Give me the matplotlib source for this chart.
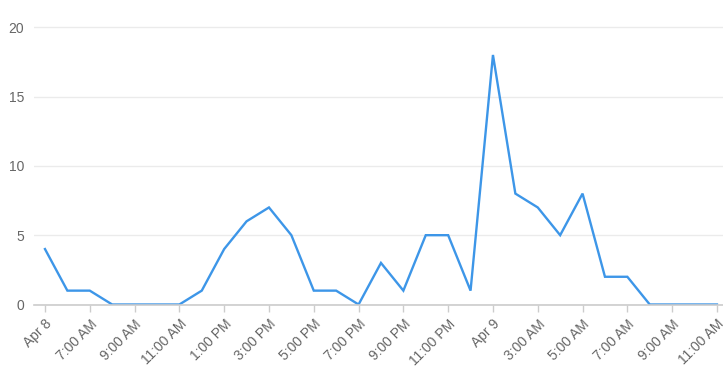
import matplotlib
matplotlib.use("Agg")
import matplotlib.pyplot as plt

hours = list(range(31))
values = [4, 1, 1, 0, 0, 0, 0, 1, 4, 6, 7, 5, 1, 1, 0, 3, 1, 5, 5, 1,
          18, 8, 7, 5, 8, 2, 2, 0, 0, 0, 0]
tick_labels = ["Apr 8", "7:00 AM", "9:00 AM", "11:00 AM", "1:00 PM", "3:00 PM",
               "5:00 PM", "7:00 PM", "9:00 PM", "11:00 PM", "Apr 9", "3:00 AM",
               "5:00 AM", "7:00 AM", "9:00 AM", "11:00 AM"]
y_ticks = [0, 5, 10, 15, 20]

plt.rcParams['font.family'] = ['Liberation Sans', 'DejaVu Sans']
fig = plt.figure(figsize=(7.23, 3.81), dpi=100)
W, H = 723, 381
left, right, bottom_px, top_px = 34, 723, 304.5, -0.5
ax = fig.add_axes([left / W, (H - bottom_px) / H, (right - left) / W, (bottom_px - top_px) / H])

ax.plot(hours, values, color="#3d96e8", linewidth=1.7, solid_joinstyle="miter", clip_on=True)
ax.set_xlim(-0.49, 30.27)
ax.set_ylim(0, 22)

ax.set_yticks(y_ticks)
ax.set_yticklabels([str(v) for v in y_ticks])
ax.set_xticks(hours[::2])
ax.set_xticklabels(tick_labels, rotation=45, ha="right", va="top", rotation_mode="anchor")

for s in ["top", "right", "left"]:
    ax.spines[s].set_visible(False)
ax.spines["bottom"].set_color("#cccccc")
ax.spines["bottom"].set_linewidth(1.2)
ax.grid(axis="y", color="#ebebeb", linewidth=1)
ax.set_axisbelow(True)
ax.tick_params(axis="y", length=0, pad=7, labelsize=10, labelcolor="#666666")
ax.tick_params(axis="x", length=5, color="#cccccc", width=1, pad=4, labelsize=10, labelcolor="#666666")

fig.savefig("out.png", dpi=100)
